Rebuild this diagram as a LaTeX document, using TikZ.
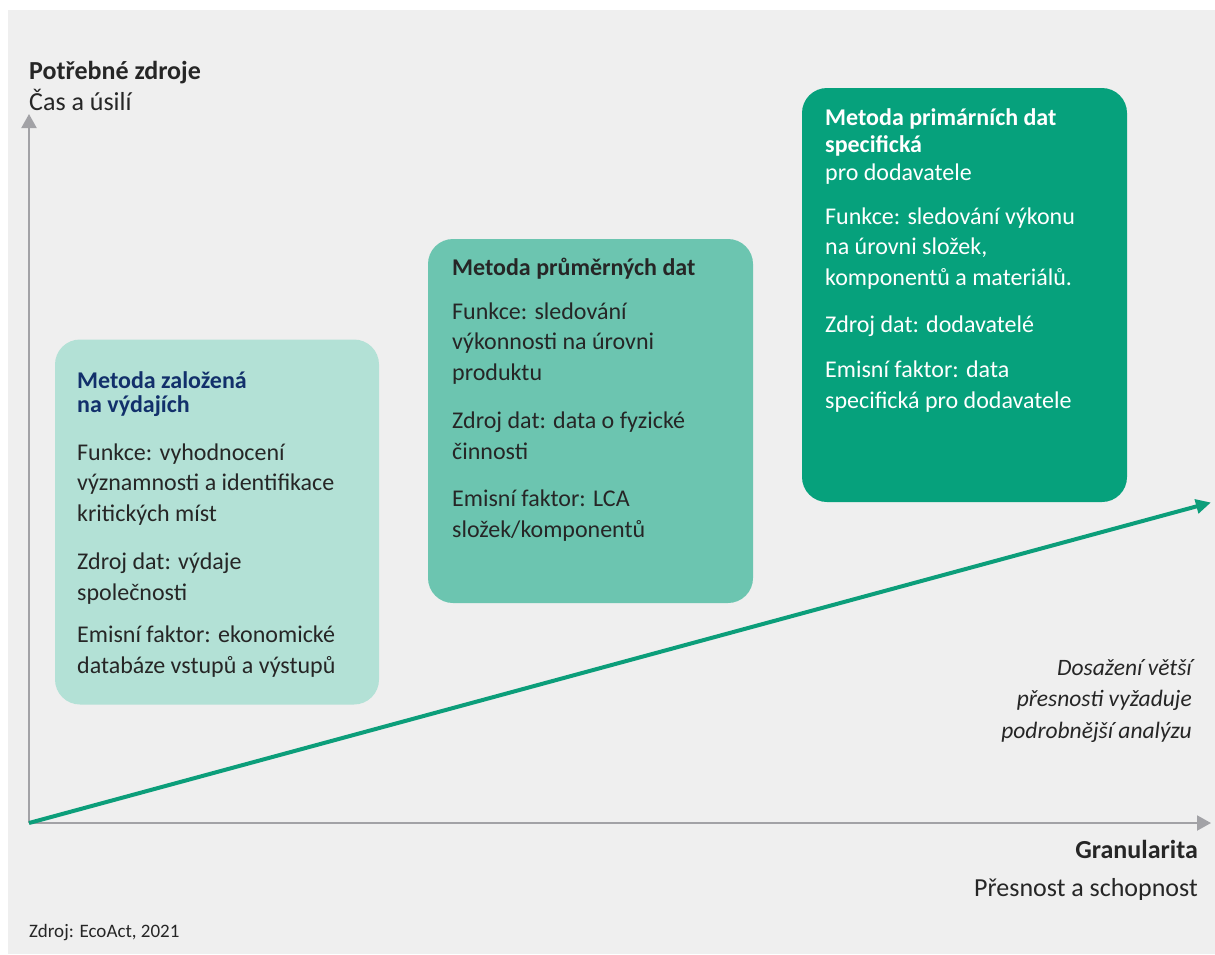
\documentclass[tikz,border=0pt]{standalone}
\usepackage{fontspec}
\setmainfont{Carlito}
\usetikzlibrary{arrows.meta}
\definecolor{bggray}{HTML}{EFEFEF}
\definecolor{boxA}{HTML}{B3E1D6}
\definecolor{boxB}{HTML}{6CC5B0}
\definecolor{boxC}{HTML}{06A17C}
\definecolor{greenline}{HTML}{0C9E7A}
\definecolor{axisgray}{HTML}{A2A2A6}
\definecolor{titleblue}{HTML}{12306B}
\definecolor{txt}{HTML}{262626}
\tikzset{
  box/.style={rounded corners=25pt, inner sep=0pt, draw=none},
  para/.style={anchor=base west, inner sep=0pt, align=left, text=txt,
    font=\fontsize{24}{30.5}\selectfont},
  ttl/.style={anchor=base west, inner sep=0pt, align=left,
    font=\bfseries\fontsize{24}{24}\selectfont},
  axislabel/.style={inner sep=0pt, text=txt, font=\fontsize{26}{30}\selectfont},
  axisbold/.style={inner sep=0pt, text=txt, font=\bfseries\fontsize{26}{30}\selectfont},
  axisline/.style={draw=axisgray, line width=2pt, -{Triangle[length=14pt,width=15pt]}},
  trend/.style={draw=greenline, line width=4pt, -{Triangle[length=15pt,width=14pt]}, shorten >=-2pt}
}
\begin{document}
\begin{tikzpicture}[x=1pt,y=-1pt]
\useasboundingbox (0,0) rectangle (1215,954);
\fill[white] (0,0) rectangle (1215,954);
\fill[bggray] (8,10) rectangle (1215,954);

% boxes
\node[box, fill=boxA, minimum width=324pt, minimum height=365pt] (b1) at (217,522) {};
\node[box, fill=boxB, minimum width=325pt, minimum height=364pt] (b2) at (590.5,421) {};
\node[box, fill=boxC, minimum width=325pt, minimum height=414pt] (b3) at (964.5,295) {};

% axes
\coordinate (O) at (29,823);
\coordinate (ytop) at (29,114);
\coordinate (xend) at (1211,823);
\coordinate (gend) at (1209,503);
\draw[axisline] (O) -- (ytop);
\draw[axisline] (O) -- (xend);
\draw[trend] (O) -- (gend);

% box 1 text (anchors at baseline of last line)
\node[ttl, text=titleblue] (b1t) at (77,412) {Metoda založená\\na výdajích};
\node[para] (b1p1) at (77,521) {Funkce: vyhodnocení\\významnosti a identifikace\\kritických míst};
\node[para] (b1p2) at (77,600) {Zdroj dat: výdaje\\společnosti};
\node[para] (b1p3) at (77,673) {Emisní faktor: ekonomické\\databáze vstupů a výstupů};

% box 2 text
\node[ttl, text=txt] (b2t) at (452,275) {Metoda průměrných dat};
\node[para] (b2p1) at (452,380) {Funkce: sledování\\výkonnosti na úrovni\\produktu};
\node[para] (b2p2) at (452,459) {Zdroj dat: data o fyzické\\činnosti};
\node[para] (b2p3) at (452,537) {Emisní faktor: LCA\\složek/komponentů};

% box 3 text
\node[ttl, text=white, font=\bfseries\fontsize{24}{27}\selectfont] (b3t) at (825,152) {Metoda primárních dat\\specifická};
\node[para, text=white] (b3s) at (825,180) {pro dodavatele};
\node[para, text=white] (b3p1) at (825,285) {Funkce: sledování výkonu\\na úrovni složek,\\komponentů a materiálů.};
\node[para, text=white] (b3p2) at (825,332) {Zdroj dat: dodavatelé};
\node[para, text=white] (b3p3) at (825,408) {Emisní faktor: data\\specifická pro dodavatele};

% axis labels
\node[axisbold, anchor=base west] (ylab) at (29,79) {Potřebné zdroje};
\node[axislabel, anchor=base west] (ysub) at (29,110) {Čas a úsilí};
\node[axisbold, anchor=base east] (xlab) at (1198,858) {Granularita};
\begin{scope}
\clip (600,860) rectangle (1215,899);
\node[axislabel, anchor=base east] (xsub) at (1198,896) {Přesnost a schopnost};
\end{scope}
\node[inner sep=0pt, text=txt, anchor=base east, align=right, font=\itshape\fontsize{23.5}{31.5}\selectfont] (note) at (1192,738) {Dosažení větší\\přesnosti vyžaduje\\podrobnější analýzu};
\node[inner sep=0pt, text=txt, anchor=base west, font=\fontsize{19}{22}\selectfont] (src) at (29,937) {Zdroj: EcoAct, 2021};
\end{tikzpicture}
\end{document}
